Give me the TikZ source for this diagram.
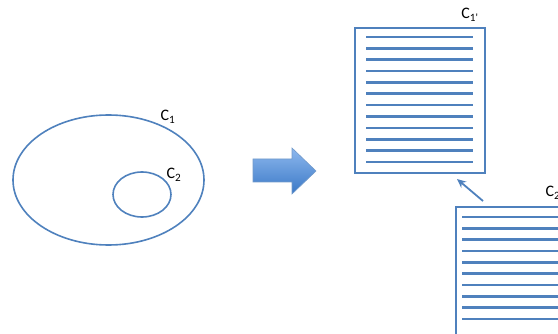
\documentclass[tikz,border=0pt]{standalone}
\usepackage{fontspec}
\setmainfont{Carlito}
\usetikzlibrary{shapes.geometric,arrows.meta}
\definecolor{obl}{HTML}{4F81BD}
\definecolor{arrtop}{HTML}{8DB8EE}
\definecolor{arrbot}{HTML}{3A78C6}
\tikzset{
  setline/.style={draw=obl,line width=1.6pt},
  rowline/.style={draw=obl,line width=2.6pt},
  lbl/.style={font=\fontsize{16}{18}\selectfont,inner sep=0pt},
}
\begin{document}
\begin{tikzpicture}[x=1pt,y=-1pt]
\useasboundingbox (0,0) rectangle (558,334);
\clip (0,0) rectangle (558,334);
% ellipses
\node[ellipse,setline,minimum width=191,minimum height=130,inner sep=0pt] (e1) at (108.5,180) {};
\node[ellipse,setline,minimum width=58,minimum height=45,inner sep=0pt] (e2) at (142,194.5) {};
\node[lbl] (l1) at (168,117) {C\textsubscript{1}};
\node[lbl] (l2) at (174,175) {C\textsubscript{2}};
% block arrow
\draw[draw=obl!80,line width=0.6pt,top color=arrtop,bottom color=arrbot]
  (253,159) -- (292,159) -- (292,148) -- (316,171) -- (292,194) -- (292,182) -- (253,182) -- cycle;
% rectangle 1
\node[setline,draw,minimum width=130,minimum height=145,inner sep=0pt,anchor=north west] (r1) at (354,27) {};
\foreach \i in {0,...,11}{
  \draw[rowline] (366,37+\i*11.36) -- (473,37+\i*11.36);
}
\node[lbl] (l3) at (470,15) {C\textsubscript{1\textquotesingle}};
% rectangle 2
\node[setline,draw,minimum width=160,minimum height=160,inner sep=0pt,anchor=north west] (r2) at (455,206) {};
\foreach \i in {0,...,9}{
  \draw[rowline] (462,217+\i*11.33) -- (600,217+\i*11.33);
}
\node[lbl] (l4) at (553,193) {C\textsubscript{2}};
% connector
\coordinate (a0) at (483,201);
\coordinate (a1) at (457,179);
\draw[obl,line width=1.8pt,-{Stealth[length=9pt,width=8pt]}] (a0) -- (a1);
\end{tikzpicture}
\end{document}
